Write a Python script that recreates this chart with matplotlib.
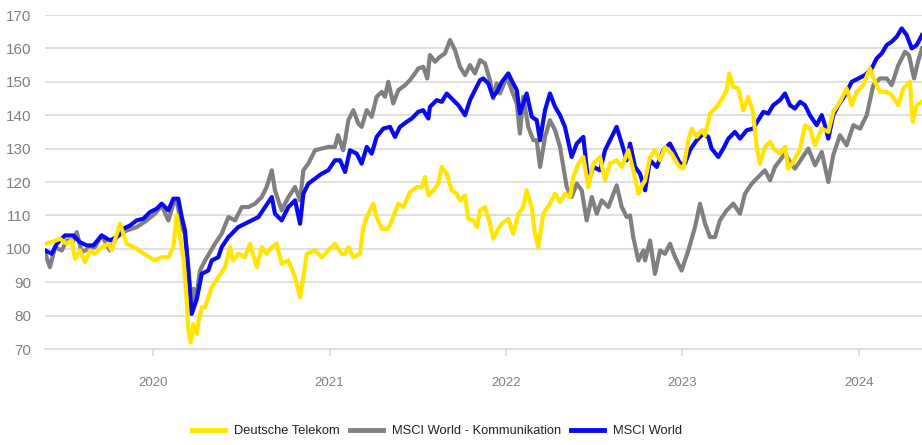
import matplotlib
matplotlib.use("Agg")
import matplotlib.pyplot as plt
from matplotlib import font_manager

plt.rcParams['font.family'] = ['Liberation Sans', 'DejaVu Sans']
_names = {f.name for f in font_manager.fontManager.ttflist}
HAS_NARROW = 'Liberation Sans Narrow' in _names
narrow = ['Liberation Sans Narrow', 'Liberation Sans', 'DejaVu Sans'] if HAS_NARROW else ['Liberation Sans', 'DejaVu Sans']

# ---------------- data ----------------
series_names = ["Deutsche Telekom", "MSCI World - Kommunikation", "MSCI World"]

dt_years = [2019.390, 2019.426, 2019.473, 2019.511, 2019.539, 2019.558, 2019.586, 2019.615, 2019.643, 2019.671,
            2019.709, 2019.747, 2019.766, 2019.813, 2019.851, 2019.908, 2019.964, 2020.011, 2020.049, 2020.087,
            2020.115, 2020.134, 2020.153, 2020.172, 2020.191, 2020.200, 2020.214, 2020.228, 2020.248, 2020.257,
            2020.276, 2020.295, 2020.333, 2020.370, 2020.408, 2020.436, 2020.455, 2020.483, 2020.521, 2020.550,
            2020.588, 2020.616, 2020.644, 2020.673, 2020.701, 2020.729, 2020.767, 2020.805, 2020.833, 2020.852,
            2020.871, 2020.918, 2020.956, 2020.993, 2021.031, 2021.069, 2021.088, 2021.107, 2021.135, 2021.173,
            2021.192, 2021.211, 2021.248, 2021.267, 2021.296, 2021.333, 2021.361, 2021.390, 2021.418, 2021.456,
            2021.494, 2021.522, 2021.541, 2021.560, 2021.588, 2021.616, 2021.636, 2021.664, 2021.692, 2021.721,
            2021.739, 2021.768, 2021.786, 2021.815, 2021.834, 2021.853, 2021.881, 2021.909, 2021.928, 2021.956,
            2021.976, 2022.013, 2022.041, 2022.070, 2022.098, 2022.117, 2022.146, 2022.164, 2022.183, 2022.211,
            2022.249, 2022.278, 2022.306, 2022.334, 2022.363, 2022.381, 2022.410, 2022.438, 2022.466, 2022.495,
            2022.533, 2022.561, 2022.589, 2022.627, 2022.656, 2022.693, 2022.721, 2022.750, 2022.771, 2022.788,
            2022.816, 2022.844, 2022.873, 2022.901, 2022.939, 2022.976, 2023.005, 2023.033, 2023.052, 2023.080,
            2023.109, 2023.128, 2023.156, 2023.194, 2023.231, 2023.250, 2023.265, 2023.288, 2023.316, 2023.344,
            2023.373, 2023.401, 2023.420, 2023.439, 2023.467, 2023.496, 2023.524, 2023.552, 2023.581, 2023.599,
            2023.628, 2023.666, 2023.694, 2023.722, 2023.751, 2023.789, 2023.826, 2023.854, 2023.892, 2023.930,
            2023.959, 2023.987, 2024.024, 2024.062, 2024.091, 2024.119, 2024.157, 2024.185, 2024.223, 2024.251,
            2024.289, 2024.304, 2024.327, 2024.357]
dt_values = [101.5, 102, 103, 101.5, 102.5, 97, 99.5, 96, 99.5, 98.5,
             100.5, 101.5, 99.5, 107.5, 101.5, 100, 98, 96.5, 97.5, 97.5,
             100.5, 110, 103.5, 97.5, 84.5, 75.5, 72, 77.5, 74.5, 78,
             82.5, 82.5, 88.5, 91.5, 94.5, 100.5, 96.5, 98.5, 97.5, 101.5,
             94.5, 100.5, 98.5, 100.5, 101.5, 95.5, 96.5, 91.5, 85.5, 91.5,
             98.5, 99.5, 97.5, 99.5, 101.5, 98.5, 98.5, 100.5, 97.5, 98.5,
             106.5, 109.5, 113.5, 109.5, 106, 106, 109.5, 113.5, 112.5, 117,
             118.5, 118.5, 121.5, 116, 117.5, 119.5, 124.5, 122.5, 117.5, 116.5,
             114.5, 116, 109, 108.5, 106.5, 111.5, 112.5, 107.5, 103, 106,
             107.5, 109, 104.5, 110.5, 112.5, 117.5, 112.5, 104.5, 100.5, 110.5,
             113.5, 116.5, 114, 116.5, 115.5, 121.5, 125.5, 127.5, 118.5, 125.5,
             127.5, 120.5, 125.5, 126.5, 124.5, 129.5, 123.5, 116.5, 119, 120.5,
             127.5, 129.5, 126.5, 130.5, 128.5, 125, 124, 132.5, 136, 133.5,
             135.5, 134, 140.5, 142.5, 145.5, 147.5, 152.5, 148.5, 148, 141.5,
             145.5, 140.5, 130.5, 125.5, 130.5, 132, 129.5, 128.5, 130.5, 124,
             126, 130, 137, 136, 131, 136, 135, 141, 144, 148,
             143, 147, 149, 154, 150, 147, 147, 146, 143, 148,
             150, 138, 143, 144]

kom_years = [2019.390, 2019.416, 2019.445, 2019.483, 2019.511, 2019.548, 2019.568, 2019.596, 2019.633, 2019.671,
             2019.709, 2019.756, 2019.794, 2019.851, 2019.908, 2019.964, 2020.011, 2020.049, 2020.087, 2020.115,
             2020.134, 2020.163, 2020.181, 2020.200, 2020.219, 2020.230, 2020.244, 2020.266, 2020.295, 2020.351,
             2020.389, 2020.427, 2020.465, 2020.503, 2020.540, 2020.578, 2020.616, 2020.644, 2020.673, 2020.691,
             2020.729, 2020.767, 2020.805, 2020.833, 2020.852, 2020.880, 2020.918, 2020.956, 2020.993, 2021.031,
             2021.048, 2021.077, 2021.088, 2021.107, 2021.135, 2021.163, 2021.182, 2021.211, 2021.239, 2021.267,
             2021.296, 2021.314, 2021.333, 2021.361, 2021.390, 2021.428, 2021.456, 2021.484, 2021.503, 2021.531,
             2021.554, 2021.569, 2021.598, 2021.626, 2021.654, 2021.683, 2021.711, 2021.739, 2021.768, 2021.796,
             2021.824, 2021.853, 2021.881, 2021.909, 2021.928, 2021.947, 2021.966, 2022.004, 2022.032, 2022.061,
             2022.079, 2022.098, 2022.126, 2022.155, 2022.174, 2022.193, 2022.221, 2022.249, 2022.278, 2022.306,
             2022.325, 2022.344, 2022.372, 2022.401, 2022.429, 2022.457, 2022.486, 2022.514, 2022.542, 2022.580,
             2022.627, 2022.656, 2022.684, 2022.703, 2022.721, 2022.750, 2022.778, 2022.788, 2022.816, 2022.844,
             2022.873, 2022.901, 2022.929, 2022.958, 2022.995, 2023.033, 2023.071, 2023.099, 2023.128, 2023.156,
             2023.184, 2023.212, 2023.250, 2023.288, 2023.326, 2023.354, 2023.392, 2023.429, 2023.467, 2023.496,
             2023.524, 2023.552, 2023.581, 2023.609, 2023.637, 2023.675, 2023.713, 2023.751, 2023.789, 2023.826,
             2023.854, 2023.892, 2023.930, 2023.968, 2024.006, 2024.044, 2024.081, 2024.119, 2024.157, 2024.185,
             2024.223, 2024.261, 2024.283, 2024.312, 2024.334, 2024.357]
kom_values = [98.5, 94.5, 100.5, 99.5, 102.5, 102.5, 105, 99, 100, 100.5,
              104, 99.5, 103.5, 105.5, 106.5, 108.5, 110.5, 113, 108.5, 113.5,
              114.5, 106.5, 104.5, 94.5, 82.5, 88, 85, 93.5, 96.5, 101.5,
              104.5, 109.5, 108.5, 112.5, 112.5, 113.5, 115.5, 118.5, 123.5, 117.5,
              111.5, 115.5, 118.5, 114.5, 123.5, 125.5, 129.5, 130, 130.5, 130.5,
              134, 129.5, 132.5, 138.5, 141.5, 137.5, 136.5, 141.5, 139.5, 145.5,
              147, 145.5, 150, 143.5, 147.5, 149, 150.5, 152.5, 154, 154.5,
              151, 158, 156, 157.5, 158.5, 162.5, 159.5, 154.5, 152, 155,
              152.5, 156.5, 155.5, 150.5, 145, 149.5, 146.5, 151.5, 147.5, 143.5,
              134.5, 145.5, 136.5, 132.5, 132.5, 124.5, 133.5, 138.5, 135.5, 130.5,
              124.5, 118.5, 115.5, 119.5, 117.5, 108.5, 115.5, 110.5, 114.5, 112.5,
              119, 112.5, 109.5, 110, 103.5, 96.5, 99.5, 96.5, 102.5, 92.5,
              99.5, 98.5, 101.5, 97.5, 93.5, 99.5, 106.5, 113.5, 107.5, 103.5,
              103.5, 108.5, 111.5, 113.5, 110.5, 116.5, 119.5, 121.5, 123.5, 120.5,
              124.5, 126.5, 128.5, 126, 124, 127, 130, 125, 129, 120,
              128, 134, 131, 137, 136, 140, 149, 151, 151, 149,
              155, 159, 158, 151, 156, 160]

world_years = [2019.390, 2019.426, 2019.455, 2019.501, 2019.548, 2019.586, 2019.624, 2019.662, 2019.709, 2019.756,
               2019.794, 2019.832, 2019.870, 2019.908, 2019.945, 2019.983, 2020.021, 2020.049, 2020.087, 2020.115,
               2020.143, 2020.163, 2020.181, 2020.200, 2020.219, 2020.248, 2020.276, 2020.313, 2020.333, 2020.370,
               2020.389, 2020.427, 2020.483, 2020.521, 2020.559, 2020.597, 2020.635, 2020.673, 2020.691, 2020.729,
               2020.767, 2020.805, 2020.833, 2020.852, 2020.880, 2020.918, 2020.956, 2020.993, 2021.031, 2021.060,
               2021.088, 2021.116, 2021.154, 2021.182, 2021.211, 2021.239, 2021.267, 2021.305, 2021.343, 2021.371,
               2021.399, 2021.437, 2021.466, 2021.503, 2021.531, 2021.560, 2021.569, 2021.607, 2021.636, 2021.664,
               2021.701, 2021.730, 2021.768, 2021.796, 2021.824, 2021.853, 2021.871, 2021.900, 2021.926, 2021.949,
               2021.977, 2022.013, 2022.041, 2022.061, 2022.079, 2022.117, 2022.146, 2022.174, 2022.193, 2022.221,
               2022.249, 2022.278, 2022.306, 2022.334, 2022.372, 2022.401, 2022.438, 2022.466, 2022.495, 2022.533,
               2022.561, 2022.589, 2022.627, 2022.656, 2022.684, 2022.703, 2022.731, 2022.759, 2022.788, 2022.816,
               2022.854, 2022.891, 2022.929, 2022.958, 2022.986, 2023.014, 2023.042, 2023.080, 2023.118, 2023.146,
               2023.165, 2023.203, 2023.231, 2023.260, 2023.297, 2023.326, 2023.364, 2023.401, 2023.429, 2023.458,
               2023.486, 2023.514, 2023.552, 2023.581, 2023.609, 2023.637, 2023.666, 2023.694, 2023.722, 2023.760,
               2023.789, 2023.807, 2023.826, 2023.854, 2023.883, 2023.921, 2023.959, 2023.996, 2024.034, 2024.072,
               2024.100, 2024.129, 2024.157, 2024.185, 2024.214, 2024.242, 2024.270, 2024.299, 2024.327, 2024.357]
world_values = [99.5, 98.5, 101.5, 104, 104, 102, 101, 101, 104, 102.5,
                103.5, 106, 107, 108.5, 109, 111, 112, 113.5, 111.5, 115,
                115, 109.5, 105.5, 93.5, 80.5, 85, 92.5, 93.5, 96.5, 97.5,
                100.5, 103.5, 106.5, 107.5, 108.5, 109.5, 112.5, 115.5, 110.5, 108.5,
                112.5, 114.5, 107.5, 116.5, 119.5, 121, 122.5, 123.5, 126.5, 126.5,
                123, 129.5, 128.5, 125.5, 130.5, 128.5, 133.5, 136, 136.5, 133.5,
                136.5, 138, 139, 141, 141.5, 139, 142.5, 144.5, 144, 146.5,
                144.5, 143, 140, 144.5, 147.5, 150.5, 151, 149.5, 145.5, 147,
                150, 152.5, 149.5, 147.5, 140.5, 146.5, 139.5, 138.5, 132.5, 141.5,
                146.5, 142.5, 140, 136.5, 127.5, 131.5, 133.5, 120, 124.5, 123.5,
                129.5, 132.5, 136.5, 131.5, 126.5, 131.5, 124.5, 122.5, 117.5, 126.5,
                124.5, 129.5, 131.5, 128.5, 125.5, 125.5, 129.5, 132.5, 134.5, 133.5,
                130, 127.5, 130, 133, 135, 133, 135.5, 136, 138.5, 141,
                140.5, 143, 144.5, 146.5, 143, 142, 144, 143, 140, 137,
                140, 137, 133, 140, 143, 146, 150, 151, 152, 154,
                157, 158.5, 161, 162, 163.5, 166, 164, 160, 161, 164]

year_ticks = [2020, 2021, 2022, 2023, 2024]
y_ticks = [70, 80, 90, 100, 110, 120, 130, 140, 150, 160, 170]

# ---------------- plot ----------------
fig = plt.figure(figsize=(9.22, 4.45), dpi=100)
ax = fig.add_axes([45 / 922, 1 - 349 / 445, 1 - 45 / 922, (349 - 15) / 445])

c_dt, c_kom, c_world = "#FFE500", "#808080", "#0A0AF0"
lw = 3.0
l_kom, = ax.plot(kom_years, kom_values, color=c_kom, lw=lw, solid_joinstyle="round", zorder=3)
l_world, = ax.plot(world_years, world_values, color=c_world, lw=lw, solid_joinstyle="round", zorder=4)
l_dt, = ax.plot(dt_years, dt_values, color=c_dt, lw=lw, solid_joinstyle="round", zorder=5)

ax.set_xlim(2019.388, 2024.357)
ax.set_ylim(70, 170)
ax.set_yticks(y_ticks)
ax.set_xticks(year_ticks)
ax.set_xticklabels([str(y) for y in year_ticks])
ax.grid(axis="y", color="#DDDDDD", lw=1.3, zorder=0)
ax.grid(axis="x", visible=False)
for s in ["top", "right", "left"]:
    ax.spines[s].set_visible(False)
ax.spines["bottom"].set_color("#DDDDDD")
ax.spines["bottom"].set_linewidth(1.3)
ax.tick_params(axis="y", length=0, pad=10, labelsize=11, labelcolor="#808080")
ax.tick_params(axis="x", length=5, width=1.3, color="#DDDDDD", pad=15,
               labelcolor="#808080")
xsize = 10.5 if HAS_NARROW else 9.5
for t in ax.get_xticklabels():
    t.set_family(narrow)
    t.set_fontsize(xsize)

lsize = 11 if HAS_NARROW else 9.3
leg = fig.legend([l_dt, l_kom, l_world], series_names, loc="center",
                 bbox_to_anchor=(0.474, 1 - 431 / 445), ncol=3, frameon=False,
                 prop={'family': narrow, 'size': lsize},
                 handlelength=33 / (lsize * 100 / 72), handletextpad=9 / (lsize * 100 / 72),
                 columnspacing=10 / (lsize * 100 / 72), labelcolor="#222222")
for h in leg.legend_handles:
    h.set_linewidth(3.5)

fig.savefig("out.png", dpi=100)
